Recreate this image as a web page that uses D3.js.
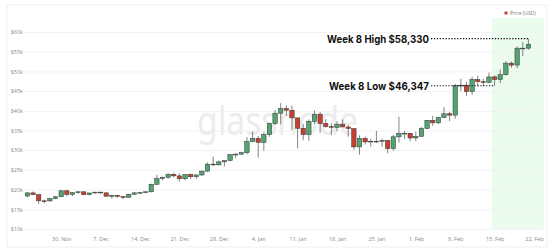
<!DOCTYPE html>
<html>
<head>
<meta charset="utf-8">
<script src="https://cdn.jsdelivr.net/npm/d3@7"></script>
<style>
  body { margin: 0; background: #fff; }
  svg { display: block; font-family: 'Open Sans', sans-serif; }
</style>
</head>
<body>
<svg id="viz"></svg>
<script>
const width = 554
const height = 251

// daily BTC candles, 24 Nov 2020 -> 21 Feb 2021
const startDay = new Date(2020, 10, 24)
const endDay = new Date(2021, 1, 22)
const open = [18370, 19160, 18730, 17150, 17140, 17720, 18180, 19700, 18790, 19220, 19440, 18700, 19150, 19360, 19170, 18320, 18550, 18250, 18040, 18800, 19170, 19270, 19440, 21350, 22800, 23130, 23860, 23480, 22750, 23830, 23260, 23720, 24690, 26470, 26280, 27040, 27360, 28880, 28990, 29370, 32170, 33000, 31990, 33950, 36770, 39400, 40600, 40150, 38200, 35570, 33970, 37330, 39150, 36770, 36000, 35800, 36600, 35900, 35500, 30830, 33000, 32100, 32280, 32260, 32500, 30400, 33400, 34300, 34300, 33100, 33500, 35500, 37600, 36950, 38300, 39250, 38900, 46400, 46500, 44850, 47970, 47400, 47200, 48600, 47950, 49150, 52100, 51600, 55900, 55900]
const high = [19420, 19480, 18920, 17460, 17880, 18340, 19860, 19920, 19320, 19580, 19500, 19170, 19410, 19420, 19290, 18640, 18560, 18270, 18930, 19410, 19300, 19560, 21500, 23770, 23270, 24170, 24280, 24100, 23830, 24100, 23800, 24780, 26870, 28400, 27400, 27370, 28980, 29300, 29600, 33300, 34790, 33600, 34440, 36940, 40180, 41950, 41380, 41350, 38260, 36630, 37800, 40100, 39720, 37900, 36830, 37330, 37800, 36400, 35550, 33800, 33450, 32900, 34880, 32950, 32560, 33830, 38500, 34900, 34300, 34700, 35900, 37650, 38700, 38280, 40950, 39700, 46800, 48150, 47350, 48650, 48900, 48150, 49700, 49000, 50500, 52600, 52500, 56350, 57500, 58330]
const low = [18030, 18570, 16330, 16500, 16880, 17570, 18180, 18320, 18340, 18920, 18580, 18540, 18910, 18930, 18220, 17660, 17940, 17590, 18020, 18730, 19000, 19060, 19290, 21230, 22350, 22800, 23070, 22000, 22380, 22700, 22720, 23440, 24520, 25970, 26100, 25900, 27330, 28000, 28800, 28950, 32030, 28130, 29900, 33430, 36360, 36570, 38720, 35110, 30420, 32530, 32400, 36700, 34430, 35700, 33850, 34800, 35900, 33400, 30100, 28850, 31450, 30900, 31900, 30840, 29240, 29850, 31950, 32850, 32280, 32300, 33450, 35400, 36200, 36600, 38200, 37400, 37950, 45000, 43750, 44000, 46300, 46250, 47000, 46347, 47050, 48950, 50950, 50800, 53900, 55500]
const close = [19160, 18730, 17150, 17140, 17720, 18180, 19700, 18790, 19220, 19440, 18700, 19150, 19360, 19170, 18320, 18550, 18250, 18040, 18800, 19170, 19270, 19440, 21350, 22800, 23130, 23860, 23480, 22750, 23830, 23260, 23720, 24690, 26470, 26280, 27040, 27360, 28880, 28990, 29370, 32170, 33000, 31990, 33950, 36770, 39400, 40600, 40150, 38200, 35570, 33970, 37330, 39150, 36770, 36000, 35800, 36600, 35900, 35500, 30830, 33000, 32100, 32280, 32260, 32500, 30400, 33400, 34300, 34300, 33100, 33500, 35500, 37600, 36950, 38300, 39250, 38900, 46400, 46500, 44850, 47970, 47400, 47200, 48600, 47950, 49150, 52100, 51600, 55900, 55900, 56900]

const yTicks = [10000, 15000, 20000, 25000, 30000, 35000, 40000, 45000, 50000, 55000, 60000]
const xTickLabels = ['2020-11-30', '2020-12-07', '2020-12-14', '2020-12-21', '2020-12-28', '2021-01-04', '2021-01-11', '2021-01-18', '2021-01-25', '2021-02-01', '2021-02-08', '2021-02-15', '2021-02-22']

const weekStart = new Date(2021, 1, 15)
const weekHigh = 58330
const weekLow = 46347
const highDay = new Date(2021, 1, 21)
const lowDay = new Date(2021, 1, 15)

const days = d3.timeDay.range(startDay, endDay)
const data = days.map((d, i) => ({ date: d, o: open[i], h: high[i], l: low[i], c: close[i] }))

const plot = { left: 24, right: 544, top: 18, bottom: 230 }

const x = d3.scaleTime()
  .domain([startDay, new Date(2021, 1, 21)])
  .range([27.4, 528.4])
const y = d3.scaleLinear()
  .domain([10000, 60000])
  .range([229, 32])

const svg = d3.select('#viz').attr('width', width).attr('height', height)

// card border
svg.append('rect')
  .attr('x', 7).attr('y', 5)
  .attr('width', 540).attr('height', 242)
  .attr('fill', 'none')
  .attr('stroke', '#f0f0f0')

// week 8 shading
svg.append('rect')
  .attr('x', x(d3.timeHour.offset(weekStart, -12)))
  .attr('y', plot.top)
  .attr('width', plot.right - x(d3.timeHour.offset(weekStart, -12)))
  .attr('height', plot.bottom - plot.top)
  .attr('fill', '#ebfbee')

// y axis + grid
const yAxis = svg.append('g')
  .attr('transform', `translate(${plot.left}, 0)`)
  .call(d3.axisLeft(y)
    .tickValues(yTicks)
    .tickSize(-(plot.right - plot.left - 6))
    .tickPadding(1)
    .tickFormat((d) => '$' + d / 1000 + 'k'))
yAxis.select('.domain').remove()
yAxis.selectAll('line').attr('stroke', '#f2f2f2')
yAxis.selectAll('text')
  .attr('fill', '#8a8a8a')
  .attr('font-size', 5.5)
  .attr('font-family', 'Open Sans, sans-serif')

// x axis
const parse = d3.timeParse('%Y-%m-%d')
const xAxis = svg.append('g')
  .attr('transform', `translate(0, ${plot.bottom})`)
  .call(d3.axisBottom(x)
    .tickValues(xTickLabels.map(parse))
    .tickSize(0)
    .tickPadding(7)
    .tickFormat(d3.timeFormat('%-d. %b')))
xAxis.select('.domain').remove()
xAxis.selectAll('text')
  .attr('fill', '#8a8a8a')
  .attr('font-size', 5.5)
  .attr('font-family', 'Open Sans, sans-serif')

// watermark
svg.append('text')
  .attr('x', 197).attr('y', 135)
  .attr('font-size', 40)
  .attr('font-family', 'Noto Sans, sans-serif')
  .attr('fill', '#ececec')
  .attr('textLength', 161)
  .attr('lengthAdjust', 'spacingAndGlyphs')
  .text('glassnode')

// candles
const bodyW = 4.4
const candles = svg.append('g').attr('class', 'candles')
  .selectAll('g')
  .data(data)
  .join('g')

candles.append('line')
  .attr('x1', (d) => x(d.date)).attr('x2', (d) => x(d.date))
  .attr('y1', (d) => y(d.h)).attr('y2', (d) => y(d.l))
  .attr('stroke', '#333')
  .attr('stroke-width', 0.6)

candles.append('rect')
  .attr('x', (d) => x(d.date) - bodyW / 2)
  .attr('y', (d) => y(Math.max(d.o, d.c)))
  .attr('width', bodyW)
  .attr('height', (d) => Math.max(0.8, Math.abs(y(d.o) - y(d.c))))
  .attr('fill', (d) => d.c >= d.o ? '#52a570' : '#c6402f')
  .attr('stroke', '#333')
  .attr('stroke-width', 0.5)

// annotations
const notes = [
  { label: 'Week 8 High $58,330', value: weekHigh, day: highDay, w: 102 },
  { label: 'Week 8 Low $46,347', value: weekLow, day: lowDay, w: 100 }
]
notes.forEach((n) => {
  svg.append('line')
    .attr('x1', 431).attr('x2', x(n.day))
    .attr('y1', y(n.value)).attr('y2', y(n.value))
    .attr('stroke', '#111')
    .attr('stroke-width', 1.1)
    .attr('stroke-dasharray', '1.3,1.6')
  svg.append('text')
    .attr('x', 429).attr('y', y(n.value))
    .attr('text-anchor', 'end')
    .attr('dominant-baseline', 'central')
    .attr('font-family', 'Inter, sans-serif')
    .attr('font-weight', 700)
    .attr('font-size', 11)
    .attr('fill', '#111')
    .attr('textLength', n.w)
    .attr('lengthAdjust', 'spacingAndGlyphs')
    .text(n.label)
})

// legend
svg.append('rect')
  .attr('x', 504.5).attr('y', 11.5)
  .attr('width', 3).attr('height', 3)
  .attr('fill', '#c9453a')
svg.append('text')
  .attr('x', 510).attr('y', 13)
  .attr('dominant-baseline', 'central')
  .attr('font-size', 5)
  .attr('fill', '#777')
  .text('Price (USD)')
</script>
</body>
</html>
